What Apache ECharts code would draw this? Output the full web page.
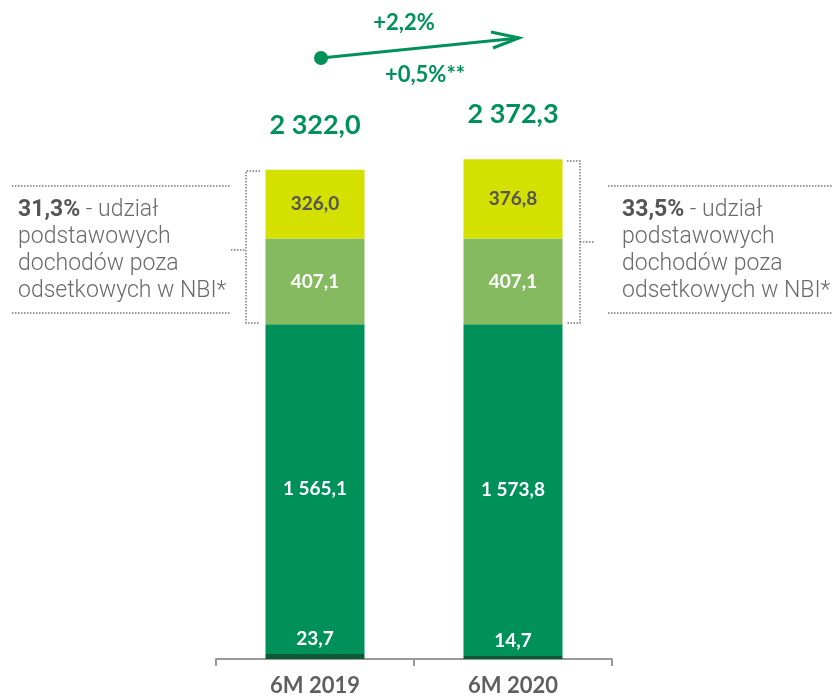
<!DOCTYPE html>
<html>
<head>
<meta charset="utf-8">
<script src="https://cdn.jsdelivr.net/npm/echarts@6/dist/echarts.min.js"></script>
<style>
  html, body { margin: 0; padding: 0; background: #fff; }
  #chart { width: 835px; height: 698px; }
</style>
</head>
<body>
<div id="chart"></div>
<script>
// dane z wykresu (mln zł)
var categories = ["6M 2019", "6M 2020"];
var otherIncome = [23.7, 14.7];
var netInterest = [1565.1, 1573.8];
var netFees = [407.1, 407.1];
var otherCore = [326.0, 376.8];
var totals = [2322.0, 2372.3];
var shareLabels = ["31,3%", "33,5%"];

var green = "#00915a";
var grey = "#5f5f5f";

function fmt(v) {
  var parts = v.toFixed(1).split(".");
  var int = parts[0].replace(/\B(?=(\d{3})+(?!\d))/g, " ");
  return int + "," + parts[1];
}

var myChart = echarts.init(document.getElementById("chart"));

function segLabel(color) {
  return {
    show: true,
    position: "inside",
    color: color,
    fontSize: 19,
    fontWeight: "bold",
    fontFamily: "Lato",
    formatter: function (p) { return fmt(p.value); }
  };
}

var sideText = function (x, share) {
  return {
    type: "text",
    left: x,
    top: 199,
    style: {
      text: "{b|" + share + "}{n| - udział}\n{n|podstawowych}\n{n|dochodów poza}\n{n|odsetkowych w NBI*}",
      rich: {
        b: { fontWeight: "bold", fill: "#555", fontSize: 23, fontFamily: "Roboto", lineHeight: 27 },
        n: { fontWeight: 300, fill: "#6a6a6a", fontSize: 23, fontFamily: "Roboto", lineHeight: 27 }
      }
    }
  };
};

var dotted = { stroke: "#777", lineWidth: 1.5, lineDash: [1.5, 1.5] };

myChart.setOption({
  animation: false,
  grid: { left: 216, right: 223, top: 27, bottom: 39 },
  xAxis: {
    type: "category",
    data: categories,
    axisLine: { lineStyle: { color: "#999", width: 2 } },
    axisTick: { show: true, length: 7, lineStyle: { color: "#999", width: 2 } },
    axisLabel: { color: grey, fontSize: 22, fontWeight: "bold", fontFamily: "Lato", margin: 16 }
  },
  yAxis: { type: "value", min: 0, max: 3000, show: false, splitLine: { show: false } },
  series: [
    {
      name: "Pozostałe dochody",
      type: "bar",
      stack: "nbi",
      barWidth: "50%",
      data: otherIncome,
      itemStyle: { color: "#0b5b35" },
      label: {
        show: true,
        position: "top",
        distance: 6,
        color: "#fff",
        fontSize: 19,
        fontWeight: "bold",
        fontFamily: "Lato",
        formatter: function (p) { return fmt(p.value); }
      }
    },
    {
      name: "Wynik odsetkowy",
      type: "bar",
      stack: "nbi",
      data: netInterest,
      itemStyle: { color: green },
      label: segLabel("#fff")
    },
    {
      name: "Wynik z tytułu opłat i prowizji",
      type: "bar",
      stack: "nbi",
      data: netFees,
      itemStyle: { color: "#86ba60" },
      label: segLabel("#fff")
    },
    {
      name: "Pozostałe dochody podstawowe",
      type: "bar",
      stack: "nbi",
      data: otherCore,
      itemStyle: { color: "#d4e000" },
      label: segLabel("#555")
    },
    {
      name: "Razem",
      type: "scatter",
      data: totals,
      symbolSize: 0,
      itemStyle: { opacity: 1, color: green },
      label: {
        show: true,
        position: "top",
        distance: 31,
        color: green,
        opacity: 1,
        fontSize: 27,
        fontWeight: "bold",
        fontFamily: "Lato",
        formatter: function (p) { return fmt(p.value); }
      }
    }
  ],
  graphic: [
    // strzałka wzrostu
    { type: "circle", shape: { cx: 321, cy: 58, r: 7 }, style: { fill: green } },
    { type: "line", shape: { x1: 321, y1: 58, x2: 519, y2: 38 }, style: { stroke: green, lineWidth: 3 } },
    { type: "polyline", shape: { points: [[491, 32], [519, 38], [493, 48]] }, style: { stroke: green, lineWidth: 3, fill: null } },
    { type: "text", x: 404, y: 23, style: { text: "+2,2%", fill: green, font: "bold 22px Lato", align: "center", verticalAlign: "middle" } },
    { type: "text", x: 425, y: 75, style: { text: "+0,5%**", fill: green, font: "bold 22px Lato", align: "center", verticalAlign: "middle" } },
    // lewy opis
    { type: "line", shape: { x1: 12, y1: 186, x2: 231, y2: 186 }, style: dotted },
    { type: "line", shape: { x1: 12, y1: 313, x2: 231, y2: 313 }, style: dotted },
    sideText(18, shareLabels[0]),
    { type: "polyline", shape: { points: [[260, 171], [246, 171], [246, 323], [260, 323]] }, style: Object.assign({ fill: null }, dotted) },
    { type: "line", shape: { x1: 231, y1: 250, x2: 246, y2: 250 }, style: dotted },
    // prawy opis
    { type: "line", shape: { x1: 608, y1: 186, x2: 833, y2: 186 }, style: dotted },
    { type: "line", shape: { x1: 608, y1: 313, x2: 833, y2: 313 }, style: dotted },
    sideText(622, shareLabels[1]),
    { type: "polyline", shape: { points: [[567, 161], [580, 161], [580, 323], [567, 323]] }, style: Object.assign({ fill: null }, dotted) },
    { type: "line", shape: { x1: 580, y1: 242, x2: 595, y2: 242 }, style: dotted }
  ]
});
</script>
</body>
</html>
